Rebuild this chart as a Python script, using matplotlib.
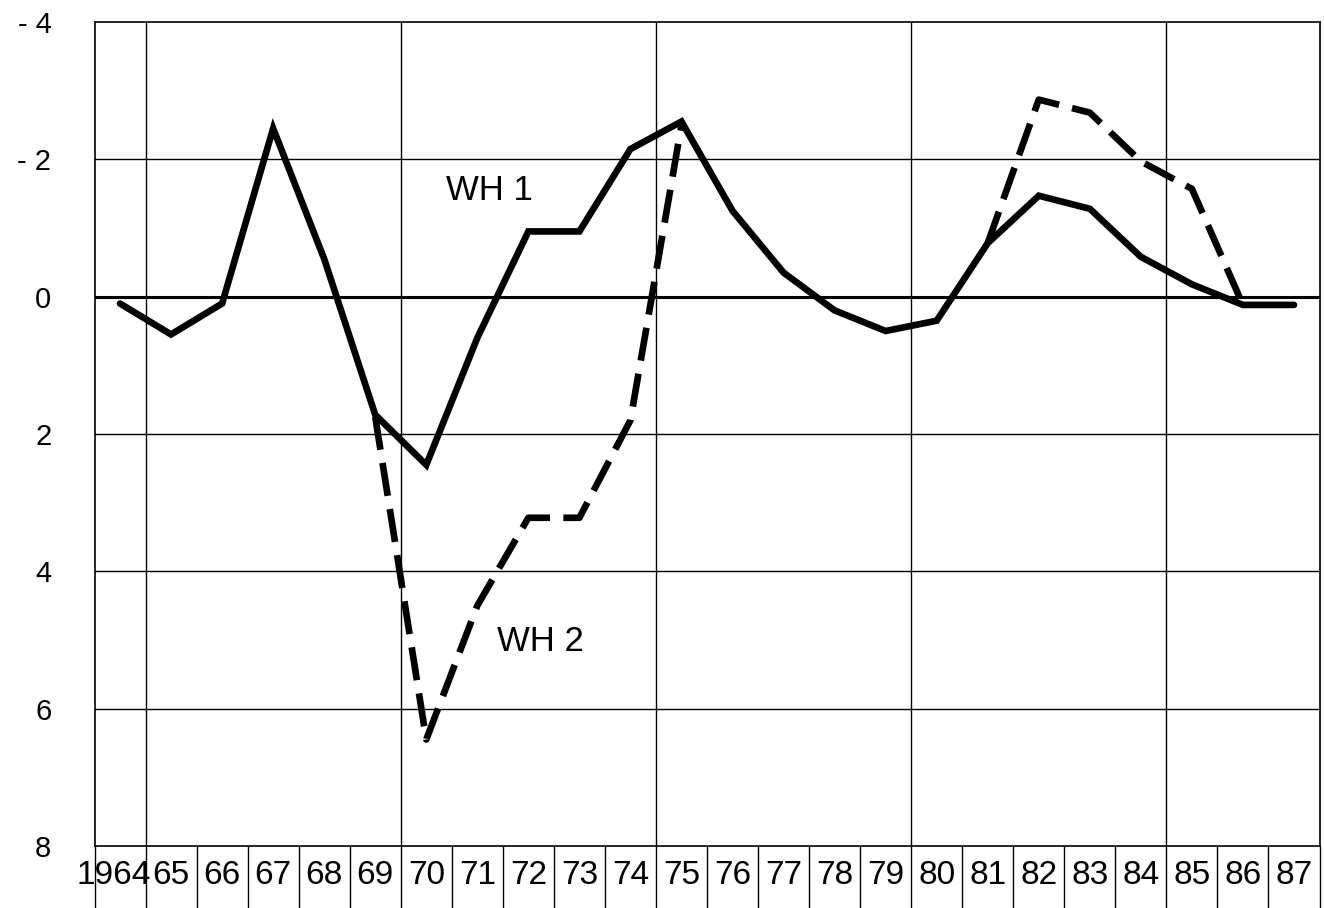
import numpy as np
import matplotlib.pyplot as plt
import matplotlib.transforms as mtransforms

# data (values plotted downward, axis inverted)
years = ["1964", "65", "66", "67", "68", "69", "70", "71", "72", "73", "74", "75",
         "76", "77", "78", "79", "80", "81", "82", "83", "84", "85", "86", "87"]

wh1 = [0.1, 0.55, 0.1, -2.45, -0.55, 1.72, 2.45, 0.6, -0.95, -0.95, -2.15, -2.55,
       -1.25, -0.35, 0.2, 0.5, 0.35, -0.78, -1.47, -1.28, -0.58, -0.18, 0.12, 0.12]

nan = np.nan
wh2 = [nan, nan, nan, nan, nan, 1.75, 6.45, 4.5, 3.22, 3.22, 1.8, -2.5,
       nan, nan, nan, nan, nan, -0.78, -2.87, -2.68, -1.97, -1.57, 0.12, nan]

y_ticks = [-4, -2, 0, 2, 4, 6, 8]
y_labels = ["- 4", "- 2", "0", "2", "4", "6", "8"]
major_cols = [1, 6, 11, 16, 21]

plt.rcParams['font.family'] = ['Liberation Sans', 'DejaVu Sans']

fig = plt.figure(figsize=(13.24, 9.08), dpi=100)
ax = fig.add_axes([94.5 / 1324, 1 - 846 / 908, 1225 / 1324, (846 - 22) / 908])

x = np.arange(len(years)) + 0.5

# grid
for yv in y_ticks[1:-1]:
    lw = 2.2 if yv == 0 else 1.0
    ax.axhline(yv, color="black", lw=lw, zorder=1)
for xv in major_cols:
    ax.axvline(xv, color="black", lw=1.0, zorder=1)

ax.plot(x, wh1, color="black", lw=4.8, solid_joinstyle="miter", solid_capstyle="round", zorder=3)
line2, = ax.plot(x, wh2, color="black", lw=4.8, dash_capstyle="butt", zorder=3)
line2.set_dashes((5.0, 2.0))

ax.text(7.73, -1.55, "WH 1", fontsize=25, ha="center", va="center")
ax.text(8.74, 5.02, "WH 2", fontsize=25, ha="center", va="center")

ax.set_xlim(0, 24)
ax.set_ylim(8, -4)

ax.set_xticks(x)
ax.set_xticklabels(years, fontsize=24)
ax.set_xticks(np.arange(25), minor=True)
ax.tick_params(axis="x", which="major", length=0, pad=10)
ax.tick_params(axis="x", which="minor", length=46, width=1.0, direction="out")

# "1964" is wider than its cell, nudge it left a little
first = ax.get_xticklabels()[0]
first.set_transform(first.get_transform() + mtransforms.ScaledTranslation(-4.5 / 72, 0, fig.dpi_scale_trans))

ax.set_yticks(y_ticks)
ax.set_yticklabels(y_labels, fontsize=21)
ax.tick_params(axis="y", length=0, pad=31)

for s in ax.spines.values():
    s.set_linewidth(1.2)

fig.savefig("out.png", dpi=100)
